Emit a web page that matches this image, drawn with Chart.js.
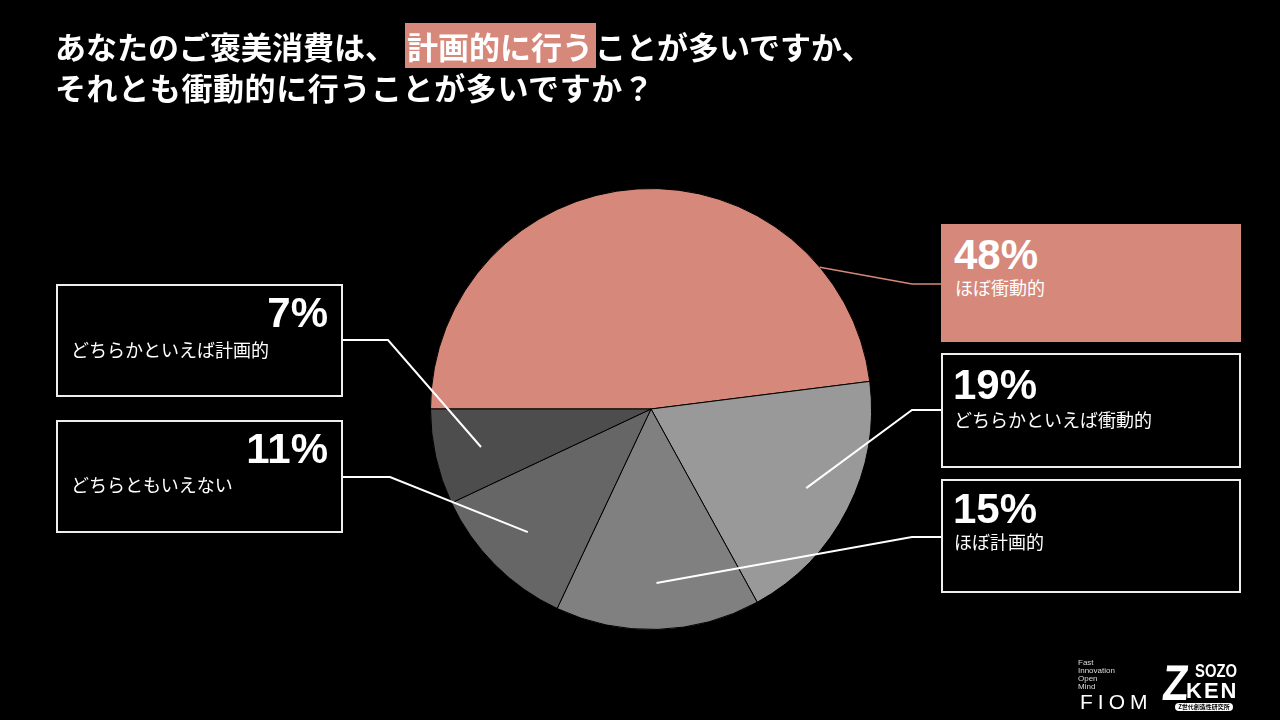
<!DOCTYPE html>
<html lang="ja">
<head>
<meta charset="utf-8">
<title>ご褒美消費</title>
<script src="https://cdn.jsdelivr.net/npm/chart.js@4/dist/chart.umd.min.js"></script>
<style>
  html, body { margin: 0; padding: 0; background: #000; }
  #stage { position: relative; width: 1280px; height: 720px; overflow: hidden; background: #000;
    font-family: "Noto Sans CJK JP", "Noto Sans", sans-serif; color: #fff; }
  #pie { position: absolute; left: 0; top: 0; }
  .title { position: absolute; left: 55px; font-size: 31px; font-weight: 700; line-height: 31px; white-space: nowrap; }
  .title .hl { background: #D6887B; padding: 0 3px 0 2px; margin: 0 -1px 0 9px; }
  .box { position: absolute; box-sizing: border-box; border: 2px solid #eee; }
  .box.main { background: #D6887B; border-color: #D6887B; }
  .pct { position: absolute; font-family: "Liberation Sans", Arial, sans-serif; font-weight: 700;
    font-size: 42px; line-height: 42px; white-space: nowrap; }
  .lab { position: absolute; font-size: 18px; line-height: 18px; white-space: nowrap; }
  .logo { position: absolute; font-family: "Liberation Sans", Arial, sans-serif; white-space: nowrap; line-height: 1;
    transform-origin: left top; }
</style>
</head>
<body>
<div id="stage">
  <canvas id="pie" width="1280" height="720"></canvas>

  <div class="title" style="top:30px">あなたのご褒美消費は、<span class="hl">計画的に行う</span>ことが多いですか、</div>
  <div class="title" style="top:71px;letter-spacing:0.6px">それとも衝動的に行うことが多いですか？</div>

  <div id="labels"></div>

  <div class="logo" style="left:1078px;top:659px;font-size:8px;line-height:8px;color:#ddd">Fast<br>Innovation<br>Open<br>Mind</div>
  <div class="logo" style="left:1080px;top:691px;font-size:21px;letter-spacing:5px;font-weight:400">FIOM</div>
  <div class="logo" style="left:1165px;top:658px;font-size:50px;font-weight:700;transform:scaleX(0.85) skewX(-6deg)">Z</div>
  <div class="logo" style="left:1195px;top:661px;font-size:19px;font-weight:700;transform:scaleX(0.78)">SOZO</div>
  <div class="logo" style="left:1186px;top:680px;font-size:22px;font-weight:700;letter-spacing:2px">KEN</div>
  <div class="logo" style="left:1175px;top:703px;width:58px;height:8px;background:#fff;color:#000;border-radius:4px;
    font-family:'Noto Sans CJK JP';font-size:6px;line-height:8px;text-align:center;font-weight:700">Z世代創造性研究所</div>
</div>

<script>
// data
const categories = ['ほぼ衝動的', 'どちらかといえば衝動的', 'ほぼ計画的', 'どちらともいえない', 'どちらかといえば計画的'];
const values = [48, 19, 15, 11, 7];
const sliceColors = ['#D6887B', '#999999', '#808080', '#666666', '#4D4D4D'];

// layout for the callout boxes (page pixels)
const boxes = [
  { x: 941, y: 224, w: 300, h: 118, main: true, align: 'left', numX: 954, numY: 234, labX: 955, labY: 278 },
  { x: 941, y: 353, w: 300, h: 115, align: 'left', numX: 953, numY: 364, labX: 954, labY: 410 },
  { x: 941, y: 479, w: 300, h: 114, align: 'left', numX: 953, numY: 488, labX: 954, labY: 532 },
  { x: 56, y: 420, w: 287, h: 113, align: 'right', numX: 328, numY: 428, labX: 71, labY: 475 },
  { x: 56, y: 284, w: 287, h: 113, align: 'right', numX: 328, numY: 292, labX: 71, labY: 340 }
];

// leader lines: anchor inside slice (fraction along arc, fraction of radius), elbow, end at box
const leaders = [
  { t: 0.81, r: 1.0, elbow: [912, 284], end: [941, 284], color: '#D6887B', width: 1.5 },
  { t: 0.5, r: 0.79, elbow: [912, 410], end: [941, 410], color: '#ffffff', width: 2 },
  { t: 0.5, r: 0.79, elbow: [912, 537], end: [941, 537], color: '#ffffff', width: 2 },
  { t: 0.5, r: 0.79, elbow: [390, 477], end: [343, 477], color: '#ffffff', width: 2 },
  { t: 0.5, r: 0.79, elbow: [388, 340], end: [343, 340], color: '#ffffff', width: 2 }
];

const labelsDiv = document.getElementById('labels');
boxes.forEach((b, i) => {
  const box = document.createElement('div');
  box.className = 'box' + (b.main ? ' main' : '');
  box.style.left = b.x + 'px';
  box.style.top = b.y + 'px';
  box.style.width = b.w + 'px';
  box.style.height = b.h + 'px';
  labelsDiv.appendChild(box);

  const pct = document.createElement('div');
  pct.className = 'pct';
  pct.textContent = values[i] + '%';
  pct.style.top = b.numY + 'px';
  if (b.align === 'right') {
    pct.style.right = (1280 - b.numX) + 'px';
  } else {
    pct.style.left = b.numX + 'px';
  }
  labelsDiv.appendChild(pct);

  const lab = document.createElement('div');
  lab.className = 'lab';
  lab.textContent = categories[i];
  lab.style.left = b.labX + 'px';
  lab.style.top = b.labY + 'px';
  labelsDiv.appendChild(lab);
});

const leaderPlugin = {
  id: 'leaders',
  afterDatasetsDraw(chart) {
    const ctx = chart.ctx;
    const arcs = chart.getDatasetMeta(0).data;
    arcs.forEach((arc, i) => {
      const L = leaders[i];
      const p = arc.getProps(['x', 'y', 'startAngle', 'endAngle', 'outerRadius'], true);
      const a = p.startAngle + L.t * (p.endAngle - p.startAngle);
      const rad = L.r * p.outerRadius;
      ctx.save();
      ctx.strokeStyle = L.color;
      ctx.lineWidth = L.width;
      ctx.beginPath();
      ctx.moveTo(p.x + Math.cos(a) * rad, p.y + Math.sin(a) * rad);
      ctx.lineTo(L.elbow[0], L.elbow[1]);
      ctx.lineTo(L.end[0], L.end[1]);
      ctx.stroke();
      ctx.restore();
    });
  }
};

const ctx = document.getElementById('pie');
const pieChart = new Chart(ctx, {
  type: 'pie',
  data: {
    labels: categories,
    datasets: [{
      data: values,
      backgroundColor: sliceColors,
      borderColor: '#000000',
      borderWidth: 1
    }]
  },
  options: {
    responsive: false,
    animation: false,
    rotation: 270,
    layout: { padding: { left: 430, right: 408, top: 188, bottom: 90 } },
    plugins: {
      legend: { display: false },
      tooltip: { enabled: false }
    }
  },
  plugins: [leaderPlugin]
});
</script>
</body>
</html>
